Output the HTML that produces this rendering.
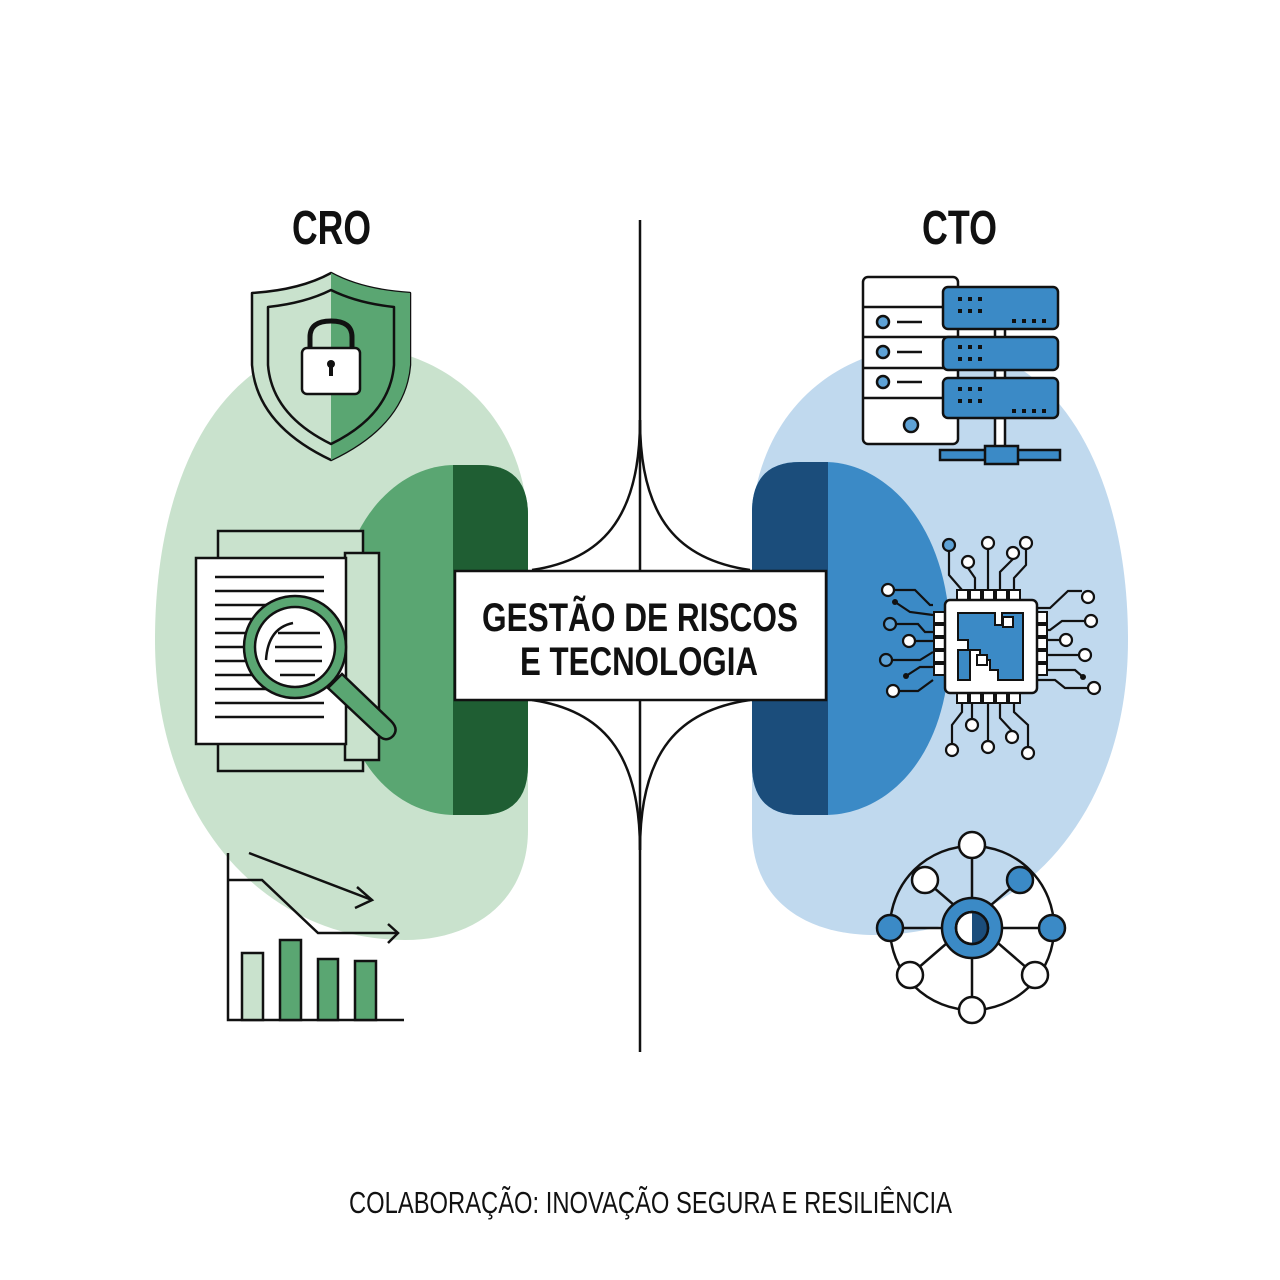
<!DOCTYPE html>
<html><head><meta charset="utf-8"><style>
html,body{margin:0;padding:0;background:#fff;}
svg{display:block;}
text{font-family:"Liberation Sans Narrow","Liberation Sans",sans-serif;}
</style></head><body>
<svg width="1280" height="1280" viewBox="0 0 1280 1280" xmlns="http://www.w3.org/2000/svg">
<rect width="1280" height="1280" fill="#fff"/>
<defs>
<clipPath id="gdark"><rect x="453" y="400" width="100" height="500"/></clipPath>
<clipPath id="bdark"><rect x="740" y="400" width="88" height="500"/></clipPath>
<clipPath id="shR"><rect x="331" y="270" width="100" height="200"/></clipPath>
</defs>
<!-- green blobs -->
<path d="M340,345 C460,345 528,430 528,530 L528,830 C528,900 475,940 405,940 C265,940 155,820 155,640 C155,470 225,345 340,345 Z" fill="#c9e2cd"/>
<path d="M455,465 C395,465 335,525 335,640 C335,760 395,815 455,815 L480,815 Q528,815 528,765 L528,515 Q528,465 480,465 Z" fill="#5aa672"/>
<path d="M455,465 C395,465 335,525 335,640 C335,760 395,815 455,815 L480,815 Q528,815 528,765 L528,515 Q528,465 480,465 Z" fill="#1f5e33" clip-path="url(#gdark)"/>
<!-- blue blobs -->
<path d="M940,345 C820,345 752,430 752,530 L752,830 C752,900 805,935 875,935 C1015,935 1128,820 1128,640 C1128,470 1055,345 940,345 Z" fill="#c0d9ee"/>
<path d="M825,462 C885,462 950,525 950,640 C950,760 885,815 825,815 L800,815 Q752,815 752,765 L752,512 Q752,462 800,462 Z" fill="#3b8ac6"/>
<path d="M825,462 C885,462 950,525 950,640 C950,760 885,815 825,815 L800,815 Q752,815 752,765 L752,512 Q752,462 800,462 Z" fill="#1b4d7b" clip-path="url(#bdark)"/>
<!-- center line and curves -->
<g fill="none" stroke="#111" stroke-width="2.5">
<line x1="640" y1="220" x2="640" y2="1052"/>
<path d="M640,420 C640,520 600,560 532,570"/>
<path d="M640,420 C640,520 680,560 750,570"/>
<path d="M640,850 C640,750 600,710 532,700"/>
<path d="M640,850 C640,750 680,710 750,700"/>
</g>
<rect x="455" y="571" width="371" height="129" fill="#fff" stroke="#111" stroke-width="2.5"/>
<text x="482" y="631" textLength="316" lengthAdjust="spacingAndGlyphs" font-size="40" font-weight="bold" fill="#111">GESTÃO DE RISCOS</text>
<text x="520" y="675" textLength="238" lengthAdjust="spacingAndGlyphs" font-size="40" font-weight="bold" fill="#111">E TECNOLOGIA</text>
<!-- titles -->
<text x="292" y="244" textLength="79" lengthAdjust="spacingAndGlyphs" font-size="48" font-weight="bold" fill="#111">CRO</text>
<text x="922" y="244" textLength="75" lengthAdjust="spacingAndGlyphs" font-size="48" font-weight="bold" fill="#111">CTO</text>
<text x="349" y="1213" textLength="603" lengthAdjust="spacingAndGlyphs" font-size="31" fill="#111">COLABORAÇÃO: INOVAÇÃO SEGURA E RESILIÊNCIA</text>
<!-- shield -->
<g stroke="#111" stroke-width="2.5" stroke-linejoin="round">
<path d="M252,293 Q300,290 331,273 Q362,290 410,293 L410,365 Q405,425 331,460 Q257,425 252,365 Z" fill="#c9e2cd"/>
<path d="M252,293 Q300,290 331,273 Q362,290 410,293 L410,365 Q405,425 331,460 Q257,425 252,365 Z" fill="#5aa672" clip-path="url(#shR)" stroke="none"/>
<path d="M268,307 Q305,303 331,290 Q357,303 394,307 L394,365 Q390,415 331,444 Q272,415 268,365 Z" fill="none"/>
<path d="M310,350 L310,337 Q310,321 331,321 Q352,321 352,337 L352,350" fill="none" stroke-width="5"/>
<rect x="302" y="348" width="58" height="46" rx="5" fill="#fff"/>
<circle cx="331" cy="364" r="4" fill="#111" stroke="none"/>
<rect x="329" y="364" width="4" height="12" fill="#111" stroke="none"/>
</g>
<!-- documents -->
<g stroke="#111" stroke-width="2.5">
<rect x="218" y="531" width="145" height="240" fill="#c9e2cd"/>
<rect x="345" y="553" width="34" height="207" fill="#c9e2cd"/>
<rect x="196" y="558" width="150" height="186" fill="#fff"/>
<g stroke-width="2.5">
<line x1="215" y1="577" x2="324" y2="577"/><line x1="215" y1="591" x2="324" y2="591"/>
<line x1="215" y1="605" x2="324" y2="605"/><line x1="215" y1="619" x2="324" y2="619"/>
<line x1="215" y1="633" x2="324" y2="633"/><line x1="215" y1="647" x2="324" y2="647"/>
<line x1="215" y1="661" x2="324" y2="661"/><line x1="215" y1="675" x2="324" y2="675"/>
<line x1="215" y1="689" x2="324" y2="689"/><line x1="215" y1="703" x2="324" y2="703"/>
<line x1="215" y1="717" x2="324" y2="717"/>
</g>
<path d="M328,688 L378,735 Q386,743 393,736 Q399,729 391,721 L342,674 Z" fill="#5aa672"/>
<circle cx="295" cy="647" r="51" fill="#5aa672"/>
<circle cx="295" cy="647" r="40" fill="#fff"/>
<path d="M293,623 Q268,628 266,660" fill="none"/>
<line x1="278" y1="633" x2="320" y2="633"/><line x1="275" y1="647" x2="322" y2="647"/><line x1="275" y1="661" x2="322" y2="661"/><line x1="280" y1="675" x2="315" y2="675"/>
</g>
<!-- chart -->
<g stroke="#111" stroke-width="2.5" fill="none">
<polyline points="228,853 228,1020 404,1020"/>
<rect x="242" y="953" width="21" height="67" fill="#c9e2cd"/>
<rect x="280" y="940" width="21" height="80" fill="#5aa672"/>
<rect x="318" y="959" width="20" height="61" fill="#5aa672"/>
<rect x="355" y="961" width="21" height="59" fill="#5aa672"/>
<line x1="249" y1="853" x2="372" y2="900"/>
<polyline points="357,887 372,900 355,908"/>
<polyline points="228,880 262,880 318,933 398,933"/>
<polyline points="388,924 398,933 388,943"/>
</g>
<!-- server -->
<g stroke="#111" stroke-width="2.5">
<rect x="863" y="277" width="95" height="167" rx="5" fill="#fff"/>
<line x1="863" y1="307" x2="958" y2="307"/><line x1="863" y1="337" x2="958" y2="337"/>
<line x1="863" y1="368" x2="958" y2="368"/><line x1="863" y1="398" x2="958" y2="398"/>
<circle cx="883" cy="322" r="6" fill="#5ea2d6"/><line x1="897" y1="322" x2="922" y2="322"/>
<circle cx="883" cy="352" r="6" fill="#5ea2d6"/><line x1="897" y1="352" x2="922" y2="352"/>
<circle cx="883" cy="382" r="6" fill="#5ea2d6"/><line x1="897" y1="382" x2="922" y2="382"/>
<circle cx="911" cy="425" r="7" fill="#5ea2d6"/>
<rect x="995" y="328" width="10" height="10" fill="#fff"/>
<rect x="995" y="370" width="10" height="10" fill="#fff"/>
<rect x="995" y="418" width="10" height="30" fill="#fff"/>
<rect x="943" y="287" width="115" height="42" rx="5" fill="#3b8ac6"/>
<rect x="943" y="337" width="115" height="33" rx="5" fill="#3b8ac6"/>
<rect x="943" y="378" width="115" height="40" rx="5" fill="#3b8ac6"/>
<rect x="940" y="450" width="120" height="10" fill="#3b8ac6"/>
<rect x="985" y="446" width="33" height="18" fill="#3b8ac6"/>
</g>
<g fill="#111">
<rect x="958" y="297" width="4" height="4"/><rect x="968" y="297" width="4" height="4"/><rect x="978" y="297" width="4" height="4"/>
<rect x="958" y="309" width="4" height="4"/><rect x="968" y="309" width="4" height="4"/><rect x="978" y="309" width="4" height="4"/>
<rect x="1012" y="319" width="4" height="4"/><rect x="1022" y="319" width="4" height="4"/><rect x="1032" y="319" width="4" height="4"/><rect x="1042" y="319" width="4" height="4"/>
<rect x="958" y="345" width="4" height="4"/><rect x="968" y="345" width="4" height="4"/><rect x="978" y="345" width="4" height="4"/>
<rect x="958" y="357" width="4" height="4"/><rect x="968" y="357" width="4" height="4"/><rect x="978" y="357" width="4" height="4"/>
<rect x="958" y="387" width="4" height="4"/><rect x="968" y="387" width="4" height="4"/><rect x="978" y="387" width="4" height="4"/>
<rect x="958" y="399" width="4" height="4"/><rect x="968" y="399" width="4" height="4"/><rect x="978" y="399" width="4" height="4"/>
<rect x="1012" y="409" width="4" height="4"/><rect x="1022" y="409" width="4" height="4"/><rect x="1032" y="409" width="4" height="4"/><rect x="1042" y="409" width="4" height="4"/>
</g>
<!-- chip traces -->
<g stroke="#111" stroke-width="2.2" fill="none">
<polyline points="949,551 949,575 962,590"/>
<polyline points="968,568 975,578 975,590"/>
<polyline points="988,549 988,590"/>
<polyline points="1013,559 1000,572 1000,590"/>
<polyline points="1026,549 1026,565 1014,578 1014,590"/>
<polyline points="1082,591 1068,591 1050,608 1037,608"/>
<polyline points="1085,621 1062,621 1050,630 1037,630"/>
<polyline points="1060,640 1037,640"/>
<polyline points="1079,655 1037,655"/>
<polyline points="1083,677 1075,670 1037,670"/>
<polyline points="1088,688 1065,688 1055,680 1037,680"/>
<polyline points="894,590 915,590 930,605 933,605"/>
<polyline points="895,602 910,612 933,615"/>
<polyline points="896,624 918,624 925,632 933,632"/>
<polyline points="915,641 933,641"/>
<polyline points="892,660 920,660 933,652"/>
<polyline points="906,676 920,667 933,667"/>
<polyline points="899,691 918,691 933,680"/>
<polyline points="952,744 952,725 962,712 962,703"/>
<polyline points="972,719 972,703"/>
<polyline points="988,741 988,703"/>
<polyline points="1012,731 1000,718 1000,703"/>
<polyline points="1028,747 1028,725 1014,712 1014,703"/>
</g>
<g fill="#fff" stroke="#111" stroke-width="2.2">
<circle cx="949" cy="545" r="6" fill="#5ea2d6"/><circle cx="968" cy="562" r="6"/><circle cx="988" cy="543" r="6"/><circle cx="1013" cy="553" r="6"/><circle cx="1026" cy="543" r="6"/>
<circle cx="888" cy="590" r="6"/><circle cx="890" cy="624" r="6" fill="#5ea2d6"/><circle cx="909" cy="641" r="6"/><circle cx="886" cy="660" r="6" fill="#5ea2d6"/><circle cx="893" cy="691" r="6"/>
<circle cx="1088" cy="597" r="6"/><circle cx="1091" cy="621" r="6"/><circle cx="1066" cy="640" r="6"/><circle cx="1085" cy="655" r="6"/><circle cx="1094" cy="688" r="6"/>
<circle cx="952" cy="750" r="6"/><circle cx="972" cy="725" r="6"/><circle cx="988" cy="747" r="6"/><circle cx="1012" cy="737" r="6"/><circle cx="1028" cy="753" r="6"/>
</g>
<g fill="#111"><circle cx="895" cy="602" r="3"/><circle cx="906" cy="676" r="3"/><circle cx="1083" cy="677" r="3"/></g>
<!-- chip pins and body -->
<g fill="#fff" stroke="#111" stroke-width="2">
<rect x="957" y="590" width="11" height="10"/><rect x="970" y="590" width="11" height="10"/><rect x="983" y="590" width="11" height="10"/><rect x="996" y="590" width="11" height="10"/><rect x="1009" y="590" width="11" height="10"/>
<rect x="957" y="693" width="11" height="10"/><rect x="970" y="693" width="11" height="10"/><rect x="983" y="693" width="11" height="10"/><rect x="996" y="693" width="11" height="10"/><rect x="1009" y="693" width="11" height="10"/>
<rect x="934" y="612" width="11" height="11"/><rect x="934" y="625" width="11" height="11"/><rect x="934" y="638" width="11" height="11"/><rect x="934" y="651" width="11" height="11"/><rect x="934" y="664" width="11" height="11"/>
<rect x="1036" y="612" width="11" height="11"/><rect x="1036" y="625" width="11" height="11"/><rect x="1036" y="638" width="11" height="11"/><rect x="1036" y="651" width="11" height="11"/><rect x="1036" y="664" width="11" height="11"/>
<rect x="945" y="600" width="92" height="93" rx="5" stroke-width="2.5"/>
<path d="M958,613 L995,613 L995,625 L1002,625 L1002,613 L1023,613 L1023,680 L998,680 L998,670 L990,670 L990,660 L980,660 L980,650 L970,650 L970,680 L958,680 L958,650 L968,650 L968,640 L958,640 Z" fill="#3b8ac6"/>
<rect x="1003" y="617" width="10" height="10" fill="#fff"/>
<rect x="977" y="655" width="10" height="10" fill="#fff"/>
</g>
<!-- network -->
<g stroke="#111" stroke-width="2.5" fill="none">
<circle cx="972" cy="928" r="82"/>
<line x1="972" y1="845" x2="972" y2="1010"/>
<line x1="890" y1="928" x2="1052" y2="928"/>
<line x1="925" y1="880" x2="1035" y2="975"/>
<line x1="1020" y1="880" x2="910" y2="975"/>
</g>
<g stroke="#111" stroke-width="2.5">
<circle cx="972" cy="845" r="13" fill="#fff"/>
<circle cx="972" cy="1010" r="13" fill="#fff"/>
<circle cx="890" cy="928" r="13" fill="#3b8ac6"/>
<circle cx="1052" cy="928" r="13" fill="#3b8ac6"/>
<circle cx="925" cy="880" r="13" fill="#fff"/>
<circle cx="1020" cy="880" r="13" fill="#3b8ac6"/>
<circle cx="910" cy="975" r="13" fill="#fff"/>
<circle cx="1035" cy="975" r="13" fill="#fff"/>
<circle cx="972" cy="928" r="30" fill="#3b8ac6"/>
<circle cx="972" cy="928" r="16" fill="#fff"/>
<path d="M972,912 A16,16 0 0 1 972,944 Z" fill="#1b4d7b" stroke="none"/>
<circle cx="972" cy="928" r="16" fill="none"/>
</g>
</svg>
</body></html>
